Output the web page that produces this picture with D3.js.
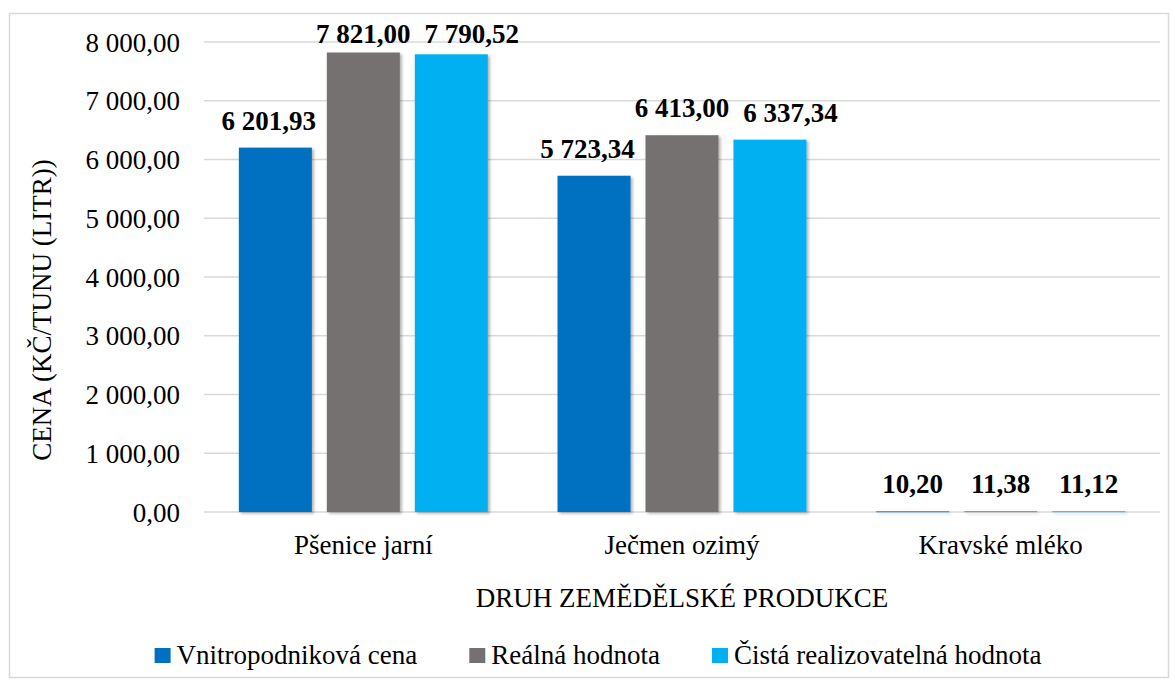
<!DOCTYPE html>
<html>
<head>
<meta charset="UTF-8">
<script src="https://cdn.jsdelivr.net/npm/d3@7"></script>
</head>
<body style="margin:0">
<script>
// data
var categories = ["Pšenice jarní", "Ječmen ozimý", "Kravské mléko"];
var seriesNames = ["Vnitropodniková cena", "Reálná hodnota", "Čistá realizovatelná hodnota"];
var vnitropodnikova = [6201.93, 5723.34, 10.20];
var realna = [7821.00, 6413.00, 11.38];
var cista = [7790.52, 6337.34, 11.12];
var yTicks = [0, 1000, 2000, 3000, 4000, 5000, 6000, 7000, 8000];
var yTitle = "CENA (KČ/TUNU (LITR))";
var xTitle = "DRUH ZEMĚDĚLSKÉ PRODUKCE";

var colors = ["#0070c0", "#767171", "#00b0f0"];
var seriesValues = [vnitropodnikova, realna, cista];

var width = 1175, height = 688;
var plot = {left: 204, right: 1160, top: 42, bottom: 512};
var serif = "Times New Roman";
var fs = 27;

// czech number format: "6 201,93"
var cz = d3.formatLocale({decimal: ",", thousands: " ", grouping: [3], currency: ["", " Kč"]});
var fmt = cz.format(",.2f");

var svg = d3.select("body").append("svg")
    .attr("width", width)
    .attr("height", height);

// drop shadow like the office chart bars
var filter = svg.append("defs").append("filter")
    .attr("id", "shadow")
    .attr("filterUnits", "userSpaceOnUse")
    .attr("x", 0).attr("y", 0).attr("width", width).attr("height", height);
filter.append("feDropShadow")
    .attr("dx", 2).attr("dy", 1.5)
    .attr("stdDeviation", 1.5)
    .attr("flood-color", "#000")
    .attr("flood-opacity", 0.3);

// chart border
svg.append("rect")
    .attr("x", 9.5).attr("y", 13.5)
    .attr("width", 1159).attr("height", 664)
    .attr("fill", "none")
    .attr("stroke", "#d9d9d9")
    .attr("stroke-width", 1.5);

var x0 = d3.scaleBand()
    .domain(categories)
    .range([plot.left, plot.right]);

var x1 = d3.scaleBand()
    .domain(seriesNames)
    .range([0, x0.bandwidth()])
    .paddingInner(0.17)
    .paddingOuter(0.396);

var y = d3.scaleLinear()
    .domain([0, 8000])
    .range([plot.bottom, plot.top]);

// gridlines
svg.selectAll(".gridline")
    .data(yTicks)
  .enter().append("line")
    .attr("class", "gridline")
    .attr("x1", plot.left).attr("x2", plot.right)
    .attr("y1", function(d) { return y(d); })
    .attr("y2", function(d) { return y(d); })
    .attr("stroke", "#d9d9d9")
    .attr("stroke-width", 1.3);

// y tick labels
svg.selectAll(".ytick")
    .data(yTicks)
  .enter().append("text")
    .attr("class", "ytick")
    .attr("font-family", serif)
    .attr("font-size", fs)
    .attr("text-anchor", "end")
    .attr("x", plot.left - 24)
    .attr("y", function(d) { return y(d); })
    .attr("dy", "0.36em")
    .text(function(d) { return fmt(d); });

// category labels
svg.selectAll(".xtick")
    .data(categories)
  .enter().append("text")
    .attr("class", "xtick")
    .attr("font-family", serif)
    .attr("font-size", fs)
    .attr("text-anchor", "middle")
    .attr("x", function(d) { return x0(d) + x0.bandwidth() / 2; })
    .attr("y", plot.bottom + 42)
    .text(function(d) { return d; });

// bars
var rows = categories.map(function(c, i) {
    return seriesNames.map(function(s, j) {
        return {cat: c, series: s, idx: j, value: seriesValues[j][i]};
    });
});

var groups = svg.selectAll(".group")
    .data(rows)
  .enter().append("g")
    .attr("class", "group")
    .attr("transform", function(d, i) { return "translate(" + x0(categories[i]) + ",0)"; });

groups.selectAll("rect")
    .data(function(d) { return d; })
  .enter().append("rect")
    .attr("x", function(d) { return x1(d.series); })
    .attr("y", function(d) { return y(d.value); })
    .attr("width", x1.bandwidth())
    .attr("height", function(d) { return Math.max(plot.bottom - y(d.value), 0.8); })
    .attr("fill", function(d) { return colors[d.idx]; })
    .attr("filter", "url(#shadow)");

// value labels, top ones kept inside the chart
groups.selectAll(".bar-label")
    .data(function(d) { return d; })
  .enter().append("text")
    .attr("class", "bar-label")
    .attr("font-family", serif)
    .attr("font-size", fs)
    .attr("font-weight", "bold")
    .attr("text-anchor", "middle")
    .attr("x", function(d) { return x1(d.series) + x1.bandwidth() / 2; })
    .attr("y", function(d) { return Math.max(y(d.value) - 18, 43); })
    .text(function(d) { return fmt(d.value); });

// push outer labels away from the middle one when they collide
groups.each(function() {
    var t = d3.select(this).selectAll(".bar-label").nodes();
    var box = t.map(function(n) {
        var w = n.getComputedTextLength(), cx = +n.getAttribute("x");
        return {l: cx - w / 2, r: cx + w / 2, cx: cx};
    });
    if (box[0].r > box[1].l) {
        t[0].setAttribute("x", box[0].cx - (box[0].r - box[1].l));
    }
    if (box[2].l < box[1].r + 14) {
        t[2].setAttribute("x", box[2].cx + (box[1].r + 14 - box[2].l));
    }
});

// axis titles
svg.append("text")
    .attr("font-family", serif)
    .attr("font-size", fs)
    .attr("text-anchor", "middle")
    .attr("transform", "translate(51,310) rotate(-90)")
    .text(yTitle);

svg.append("text")
    .attr("font-family", serif)
    .attr("font-size", fs)
    .attr("text-anchor", "middle")
    .attr("x", (plot.left + plot.right) / 2)
    .attr("y", 607)
    .text(xTitle);

// legend
var items = svg.append("g").selectAll("g")
    .data(seriesNames)
  .enter().append("g");
items.append("rect")
    .attr("y", 648).attr("width", 16).attr("height", 15)
    .attr("fill", function(d, i) { return colors[i]; });
items.append("text")
    .attr("font-family", serif)
    .attr("font-size", fs)
    .attr("x", 22).attr("y", 664)
    .text(function(d) { return d; });

var pos = 0, gap = 52;
items.each(function() {
    var w = 22 + d3.select(this).select("text").node().getComputedTextLength();
    this.__lx = pos;
    pos += w + gap;
});
var start = 598 - (pos - gap) / 2;
items.attr("transform", function() {
    return "translate(" + (start + this.__lx) + ",0)";
});
</script>
</body>
</html>
